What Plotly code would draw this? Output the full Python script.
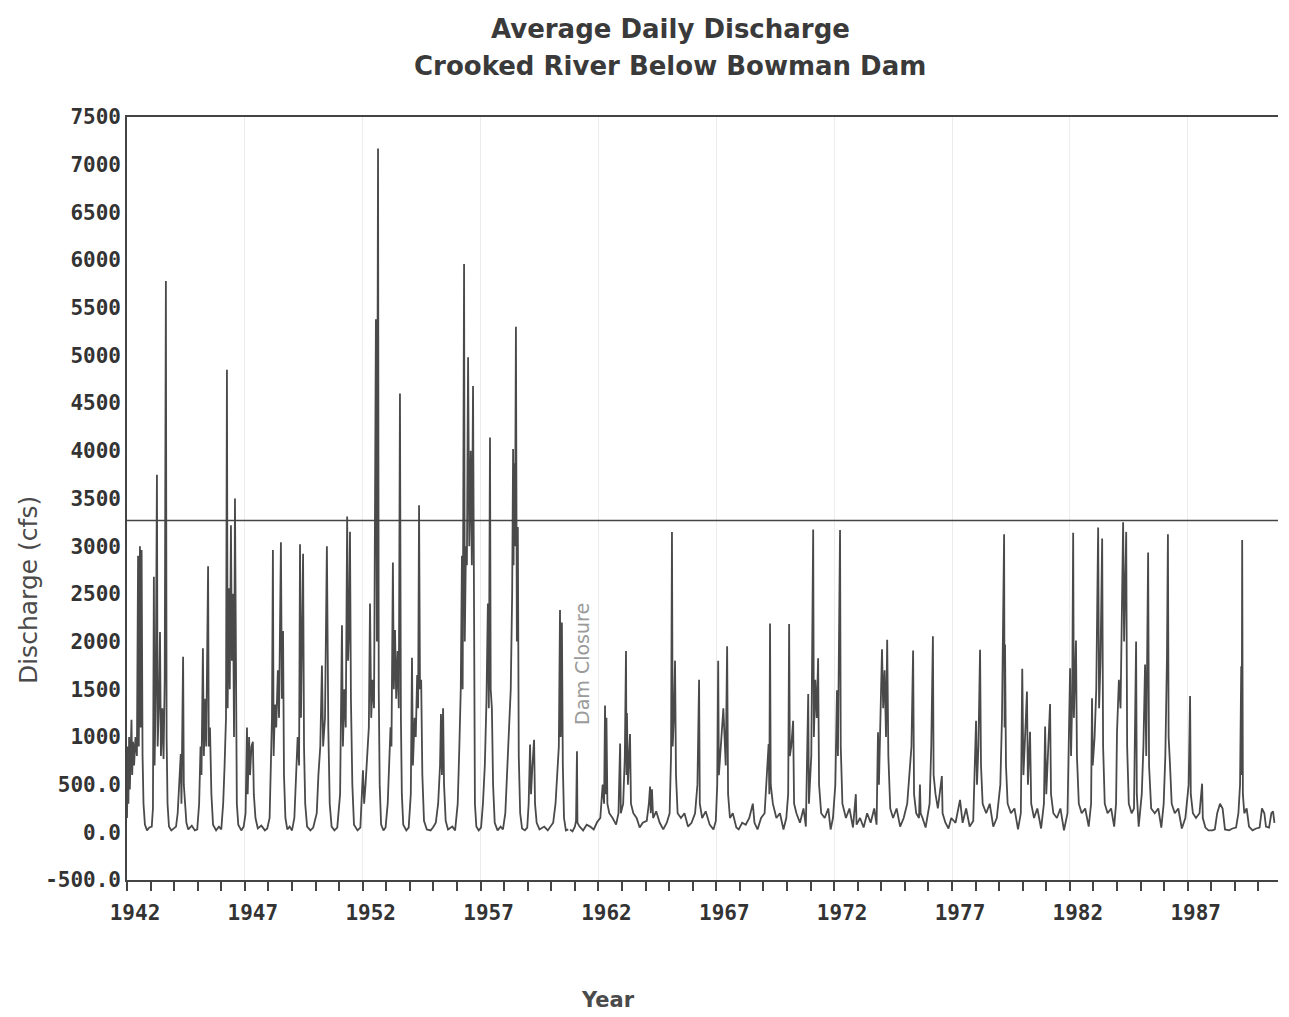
import plotly.graph_objects as go

# ---- data (decimal year, cfs) ----
pre_dam_t = [
    1942.00, 1942.04, 1942.06, 1942.09, 1942.12, 1942.15, 1942.19, 1942.22, 1942.26, 1942.30, 1942.36, 1942.42,
    1942.47, 1942.50, 1942.55, 1942.58, 1942.62, 1942.66, 1942.70, 1942.76, 1942.85, 1942.95, 1943.05,
    1943.10, 1943.14, 1943.17, 1943.22, 1943.27, 1943.30, 1943.36, 1943.40, 1943.44, 1943.50, 1943.55, 1943.60,
    1943.65, 1943.68, 1943.72, 1943.78, 1943.88, 1943.98,
    1944.08, 1944.15, 1944.22, 1944.28, 1944.31, 1944.35, 1944.38, 1944.41, 1944.45, 1944.52, 1944.60, 1944.75,
    1944.88, 1944.98,
    1945.06, 1945.12, 1945.16, 1945.22, 1945.26, 1945.32, 1945.36, 1945.44, 1945.47, 1945.52, 1945.58, 1945.65,
    1945.78, 1945.90,
    1946.00, 1946.08, 1946.14, 1946.20, 1946.24, 1946.27, 1946.32, 1946.36, 1946.41, 1946.45, 1946.50, 1946.54,
    1946.58, 1946.62, 1946.66, 1946.72, 1946.85, 1946.95,
    1947.03, 1947.09, 1947.12, 1947.18, 1947.22, 1947.28, 1947.34, 1947.38, 1947.45, 1947.55, 1947.70, 1947.85,
    1947.95,
    1948.05, 1948.10, 1948.15, 1948.19, 1948.22, 1948.28, 1948.33, 1948.40, 1948.45, 1948.53, 1948.57, 1948.62,
    1948.66, 1948.72, 1948.80, 1948.90,
    1949.00, 1949.10, 1949.18, 1949.24, 1949.30, 1949.34, 1949.38, 1949.42, 1949.47, 1949.51, 1949.56, 1949.64,
    1949.78, 1949.90,
    1950.05, 1950.12, 1950.20, 1950.27, 1950.32, 1950.40, 1950.48, 1950.50, 1950.54, 1950.60, 1950.68, 1950.80,
    1950.92,
    1951.04, 1951.12, 1951.16, 1951.22, 1951.28, 1951.34, 1951.38, 1951.42, 1951.46, 1951.50, 1951.56, 1951.63,
    1951.78, 1951.90,
    1952.01, 1952.06, 1952.12, 1952.20, 1952.26, 1952.31, 1952.36, 1952.42, 1952.48, 1952.56, 1952.60, 1952.65,
    1952.68, 1952.72, 1952.78, 1952.88, 1952.97,
    1953.06, 1953.12, 1953.18, 1953.22, 1953.28, 1953.32, 1953.37, 1953.42, 1953.48, 1953.53, 1953.58, 1953.62,
    1953.66, 1953.72, 1953.85, 1953.95,
    1954.04, 1954.09, 1954.13, 1954.20, 1954.25, 1954.31, 1954.35, 1954.39, 1954.43, 1954.48, 1954.53, 1954.60,
    1954.72, 1954.88, 1954.98,
    1955.10, 1955.20, 1955.28, 1955.32, 1955.36, 1955.41, 1955.45, 1955.52, 1955.62, 1955.80, 1955.92,
    1956.03, 1956.10, 1956.16, 1956.21, 1956.24, 1956.30, 1956.33, 1956.38, 1956.42, 1956.47, 1956.52, 1956.58,
    1956.63, 1956.68, 1956.72, 1956.76, 1956.82, 1956.92,
    1957.02, 1957.10, 1957.18, 1957.25, 1957.31, 1957.35, 1957.40, 1957.43, 1957.48, 1957.53, 1957.60, 1957.72,
    1957.85, 1957.95,
    1958.05, 1958.12, 1958.20, 1958.28, 1958.34, 1958.38, 1958.40, 1958.42, 1958.46, 1958.50, 1958.54, 1958.58,
    1958.62, 1958.68, 1958.76, 1958.88, 1958.98,
    1959.04, 1959.10, 1959.14, 1959.20, 1959.27, 1959.31, 1959.38, 1959.50, 1959.70, 1959.85, 1959.95,
    1960.08, 1960.18, 1960.26, 1960.32, 1960.37, 1960.40, 1960.45, 1960.49, 1960.54, 1960.62, 1960.72,
]
pre_dam_q = [
    150, 900, 300, 1000, 450, 850, 1180, 600, 950, 700, 1000, 800,
    2900, 900, 3000, 1100, 2960, 800, 300, 80, 20, 50, 60,
    250, 2680, 700, 1500, 3750, 900, 1400, 2100, 800, 1300, 770, 1600,
    5780, 1000, 300, 60, 20, 40,
    60, 200, 500, 820, 300, 1080, 1840, 500, 300, 100, 30, 70,
    20, 30,
    300, 900, 600, 1930, 800, 1400, 900, 2790, 900, 1100, 400, 80,
    20, 60,
    30, 300, 700, 1200, 4850, 1300, 2560, 1500, 3220, 1800, 2500, 1000,
    3500, 900, 300, 80, 20, 60,
    200, 1100, 400, 1000, 600, 900, 950, 400, 150, 40, 70, 20,
    40,
    150, 600, 1200, 2960, 800, 1340, 1100, 1700, 1200, 3040, 1400, 2110,
    600, 150, 30, 60,
    20, 150, 600, 1000, 700, 3020, 1200, 1800, 2920, 900, 300, 60,
    20, 50,
    200, 600, 900, 1750, 900, 1200, 3000, 2370, 1100, 300, 60, 20,
    50,
    400, 2170, 900, 1500, 1100, 3310, 1800, 2100, 3150, 1400, 500, 80,
    20, 50,
    650, 300, 500, 900, 1100, 2400, 1200, 1600, 1300, 5380, 2000, 7170,
    1500, 500, 80, 20, 50,
    300, 700, 1100, 900, 2830, 1500, 2120, 1400, 1900, 1300, 4600, 1200,
    400, 80, 20, 50,
    400, 1830, 700, 1200, 1000, 1650, 1300, 3430, 1500, 1600, 600, 120,
    30, 20, 50,
    100, 300, 700, 1240, 600, 1300, 500, 120, 30, 60, 20,
    300, 900, 1500, 2900, 1500, 5960, 2000, 3000, 2800, 4980, 3000, 4000,
    2800, 4680, 1200, 300, 60, 20,
    50, 300, 700, 1380, 2400, 1300, 4140, 1500, 1300, 500, 100, 20,
    60, 30,
    200, 600, 900, 1500, 2500, 4020, 2800, 3870, 3000, 5300, 2000, 3200,
    800, 200, 40, 20, 50,
    300, 920, 400, 700, 970, 300, 100, 30, 60, 20, 50,
    100, 300, 600, 900, 2330, 1000, 2200, 700, 150, 20, 30,
]

post_dam_t = [
    1960.80, 1960.90, 1961.00, 1961.05, 1961.09, 1961.11, 1961.20, 1961.35, 1961.50, 1961.65, 1961.80, 1961.95,
    1962.08, 1962.18, 1962.24, 1962.28, 1962.31, 1962.34, 1962.38, 1962.46, 1962.60, 1962.75, 1962.85, 1962.92,
    1962.95,
    1963.05, 1963.12, 1963.17, 1963.19, 1963.21, 1963.25, 1963.30, 1963.34, 1963.38, 1963.48, 1963.62, 1963.75,
    1963.88,
    1964.05, 1964.14, 1964.19, 1964.22, 1964.27, 1964.32, 1964.45, 1964.60, 1964.75, 1964.90,
    1965.02, 1965.08, 1965.12, 1965.15, 1965.20, 1965.25, 1965.29, 1965.36, 1965.50, 1965.65, 1965.80, 1965.95,
    1966.10, 1966.20, 1966.27, 1966.30, 1966.40, 1966.55, 1966.72, 1966.88, 1966.98,
    1967.04, 1967.08, 1967.11, 1967.20, 1967.30, 1967.40, 1967.46, 1967.50, 1967.58, 1967.70, 1967.85, 1967.95,
    1968.10, 1968.25, 1968.40, 1968.55, 1968.62, 1968.75, 1968.90,
    1969.05, 1969.15, 1969.22, 1969.25, 1969.28, 1969.31, 1969.40, 1969.55, 1969.70, 1969.85, 1969.97,
    1970.05, 1970.09, 1970.12, 1970.18, 1970.26, 1970.30, 1970.40, 1970.55, 1970.70, 1970.80, 1970.90, 1970.93,
    1971.03, 1971.11, 1971.14, 1971.20, 1971.26, 1971.32, 1971.36, 1971.45, 1971.60, 1971.75, 1971.85, 1971.95,
    1972.05, 1972.12, 1972.16, 1972.25, 1972.28, 1972.35, 1972.50, 1972.65, 1972.80, 1972.92, 1972.95,
    1973.10, 1973.25, 1973.40, 1973.55, 1973.70, 1973.80, 1973.86, 1973.90,
    1974.03, 1974.08, 1974.14, 1974.20, 1974.25, 1974.30, 1974.38, 1974.50, 1974.65, 1974.80, 1974.95,
    1975.10, 1975.20, 1975.28, 1975.35, 1975.39, 1975.48, 1975.60, 1975.64, 1975.67, 1975.75, 1975.88,
    1976.05, 1976.12, 1976.19, 1976.22, 1976.30, 1976.40, 1976.57, 1976.60, 1976.72, 1976.85, 1976.97,
    1977.15, 1977.34, 1977.45, 1977.60, 1977.75, 1977.90,
    1978.02, 1978.06, 1978.12, 1978.19, 1978.23, 1978.30, 1978.45, 1978.60, 1978.75, 1978.90,
    1979.05, 1979.12, 1979.21, 1979.23, 1979.25, 1979.29, 1979.36, 1979.50, 1979.65, 1979.80, 1979.92, 1979.98,
    1980.03, 1980.10, 1980.18, 1980.22, 1980.31, 1980.36, 1980.48, 1980.62, 1980.78, 1980.90, 1980.95,
    1981.00, 1981.08, 1981.16, 1981.20, 1981.30, 1981.45, 1981.60, 1981.75, 1981.90,
    1982.01, 1982.05, 1982.10, 1982.14, 1982.17, 1982.26, 1982.30, 1982.38, 1982.50, 1982.65, 1982.80, 1982.90,
    1982.94, 1982.97,
    1983.05, 1983.12, 1983.20, 1983.24, 1983.30, 1983.37, 1983.41, 1983.48, 1983.60, 1983.75, 1983.88, 1983.96,
    1984.00, 1984.08, 1984.15, 1984.26, 1984.30, 1984.39, 1984.43, 1984.50, 1984.62, 1984.72, 1984.81, 1984.84,
    1984.92,
    1985.05, 1985.12, 1985.19, 1985.24, 1985.32, 1985.36, 1985.45, 1985.60, 1985.75, 1985.88, 1985.98,
    1986.05, 1986.12, 1986.16, 1986.19, 1986.25, 1986.32, 1986.45, 1986.60, 1986.75, 1986.90,
    1987.04, 1987.10, 1987.13, 1987.22, 1987.35, 1987.50, 1987.61, 1987.64, 1987.75, 1987.88,
    1988.05, 1988.15, 1988.25, 1988.37, 1988.48, 1988.58, 1988.75, 1988.90,
    1989.05, 1989.15, 1989.22, 1989.27, 1989.29, 1989.31, 1989.34, 1989.40, 1989.50, 1989.60, 1989.75, 1989.90,
    1990.05, 1990.15, 1990.25, 1990.32, 1990.45, 1990.55, 1990.62, 1990.68,
]
post_dam_q = [
    30, 10, 60, 120, 850, 100, 60, 20, 80, 60, 30, 110,
    150, 500, 300, 1330, 400, 1200, 300, 200, 150, 80, 200, 930,
    200,
    300, 800, 1900, 600, 1250, 500, 800, 1030, 300, 200, 150, 50,
    100,
    120, 300, 480, 200, 450, 150, 220, 100, 30, 100,
    200, 800, 3150, 900, 1200, 1800, 600, 200, 150, 200, 60, 100,
    200, 500, 1600, 300, 150, 220, 80, 30, 120,
    500, 1800, 600, 900, 1300, 700, 1950, 400, 150, 200, 50, 30,
    100, 80, 150, 300, 100, 30, 150,
    200, 600, 925, 400, 2190, 500, 300, 150, 200, 30, 150,
    400, 2185, 800, 900, 1170, 300, 200, 100, 250, 60, 1450, 300,
    800, 3175, 1000, 1600, 1200, 1825, 500, 200, 150, 250, 30, 150,
    500, 1490, 800, 3170, 900, 300, 150, 250, 50, 400, 80,
    150, 50, 200, 100, 250, 80, 1050, 500,
    1920, 1300, 1700, 1000, 2020, 800, 250, 150, 250, 60, 150,
    300, 600, 900, 1905, 400, 200, 150, 500, 200, 150, 50,
    300, 900, 2055, 600, 400, 250, 590, 200, 100, 40, 150,
    100, 340, 100, 250, 60, 120,
    1170, 500, 900, 1915, 700, 300, 200, 300, 60, 150,
    500, 1200, 3125, 1100, 1970, 700, 300, 200, 250, 30, 200, 1715,
    600, 1000, 1475, 500, 1055, 300, 150, 250, 40, 300, 1110,
    400, 800, 1345, 400, 200, 150, 250, 20, 200,
    1720, 800, 1400, 3140, 1200, 2010, 800, 300, 200, 250, 60, 300,
    1405, 700,
    1000, 1500, 3195, 1300, 1800, 3080, 900, 300, 200, 250, 60, 300,
    1050, 1600, 1300, 3250, 2000, 3150, 900, 300, 200, 250, 2000, 400,
    60,
    400, 900, 1760, 800, 2935, 700, 250, 200, 250, 50, 300,
    800, 1840, 3125, 1000, 700, 300, 200, 250, 40, 150,
    500, 1430, 400, 200, 150, 200, 510, 150, 50, 20,
    20, 30, 200, 300, 250, 30, 20, 40,
    50, 200, 500, 1740, 600, 3065, 400, 200, 250, 60, 20, 40,
    50, 250, 200, 60, 50, 200, 220, 100,
]

reference_level = 3270
dam_closure_year = 1961.3
dam_label_level = 1765

x_major_ticks = [1942, 1947, 1952, 1957, 1962, 1967, 1972, 1977, 1982, 1987]
y_tick_vals = [-500, 0, 500, 1000, 1500, 2000, 2500, 3000, 3500, 4000, 4500, 5000, 5500, 6000, 6500, 7000, 7500]
y_tick_text = ["-500.0", "0.0", "500.0", "1000", "1500", "2000", "2500", "3000", "3500", "4000", "4500",
               "5000", "5500", "6000", "6500", "7000", "7500"]

LINE = "#4a4a4a"
SANS = "DejaVu Sans, Verdana, sans-serif"
MONO = "DejaVu Sans Mono, monospace"
TICKFONT = dict(family=MONO, size=21, color="#333333", weight="bold")

fig = go.Figure()
fig.add_trace(go.Scatter(x=pre_dam_t, y=pre_dam_q, mode="lines",
                         line=dict(color=LINE, width=1.8), showlegend=False))
fig.add_trace(go.Scatter(x=post_dam_t, y=post_dam_q, mode="lines",
                         line=dict(color=LINE, width=1.8), showlegend=False))

fig.add_shape(type="line", xref="paper", x0=0, x1=1, yref="y", y0=reference_level, y1=reference_level,
              line=dict(color="#444444", width=1.4))

fig.add_annotation(x=dam_closure_year, y=dam_label_level, text="Dam Closure", textangle=-90, showarrow=False,
                   font=dict(family=SANS, size=19, color="#9a9a9a"))

# titles
fig.add_annotation(xref="paper", yref="paper", x=0.4718, y=1.115, text="Average Daily Discharge",
                   showarrow=False, xanchor="center", yanchor="middle",
                   font=dict(family=SANS, size=26, color="#3a3a3a", weight="bold"))
fig.add_annotation(xref="paper", yref="paper", x=0.4718, y=1.067, text="Crooked River Below Bowman Dam",
                   showarrow=False, xanchor="center", yanchor="middle",
                   font=dict(family=SANS, size=26, color="#3a3a3a", weight="bold"))
fig.add_annotation(xref="paper", yref="paper", x=-0.086, y=0.38, text="Discharge (cfs)", textangle=-90,
                   showarrow=False, xanchor="center", yanchor="middle",
                   font=dict(family=SANS, size=25, color="#4a4a4a"))
fig.add_annotation(xref="paper", yref="paper", x=0.418, y=-0.157, text="Year",
                   showarrow=False, xanchor="center", yanchor="middle",
                   font=dict(family=SANS, size=21, color="#4a4a4a", weight="bold"))

fig.update_layout(
    width=1281, height=1009,
    margin=dict(l=119, r=11, t=109, b=137),
    paper_bgcolor="white", plot_bgcolor="white",
    font=dict(family=SANS, color="#333333"),
)

fig.update_xaxes(
    range=[1942, 1990.83],
    tickvals=x_major_ticks, ticktext=[str(v) for v in x_major_ticks],
    ticks="outside", ticklen=9, tickwidth=1.5, tickcolor="#444444",
    minor=dict(dtick=1, tick0=1942, ticks="outside", ticklen=9, tickwidth=1.5, tickcolor="#444444", showgrid=False),
    showline=True, linecolor="#444444", linewidth=1.6, mirror=True,
    showgrid=True, gridcolor="#ececec", gridwidth=1,
    zeroline=False,
    tickfont=TICKFONT,
    ticklabelshift=8, ticklabelstandoff=4,
)
fig.update_yaxes(
    range=[-500, 7500],
    tickvals=y_tick_vals, ticktext=y_tick_text,
    ticks="", showline=True, linecolor="#444444", linewidth=1.6,
    showgrid=False, zeroline=False,
    tickfont=TICKFONT,
)

fig.write_html("out.html")
